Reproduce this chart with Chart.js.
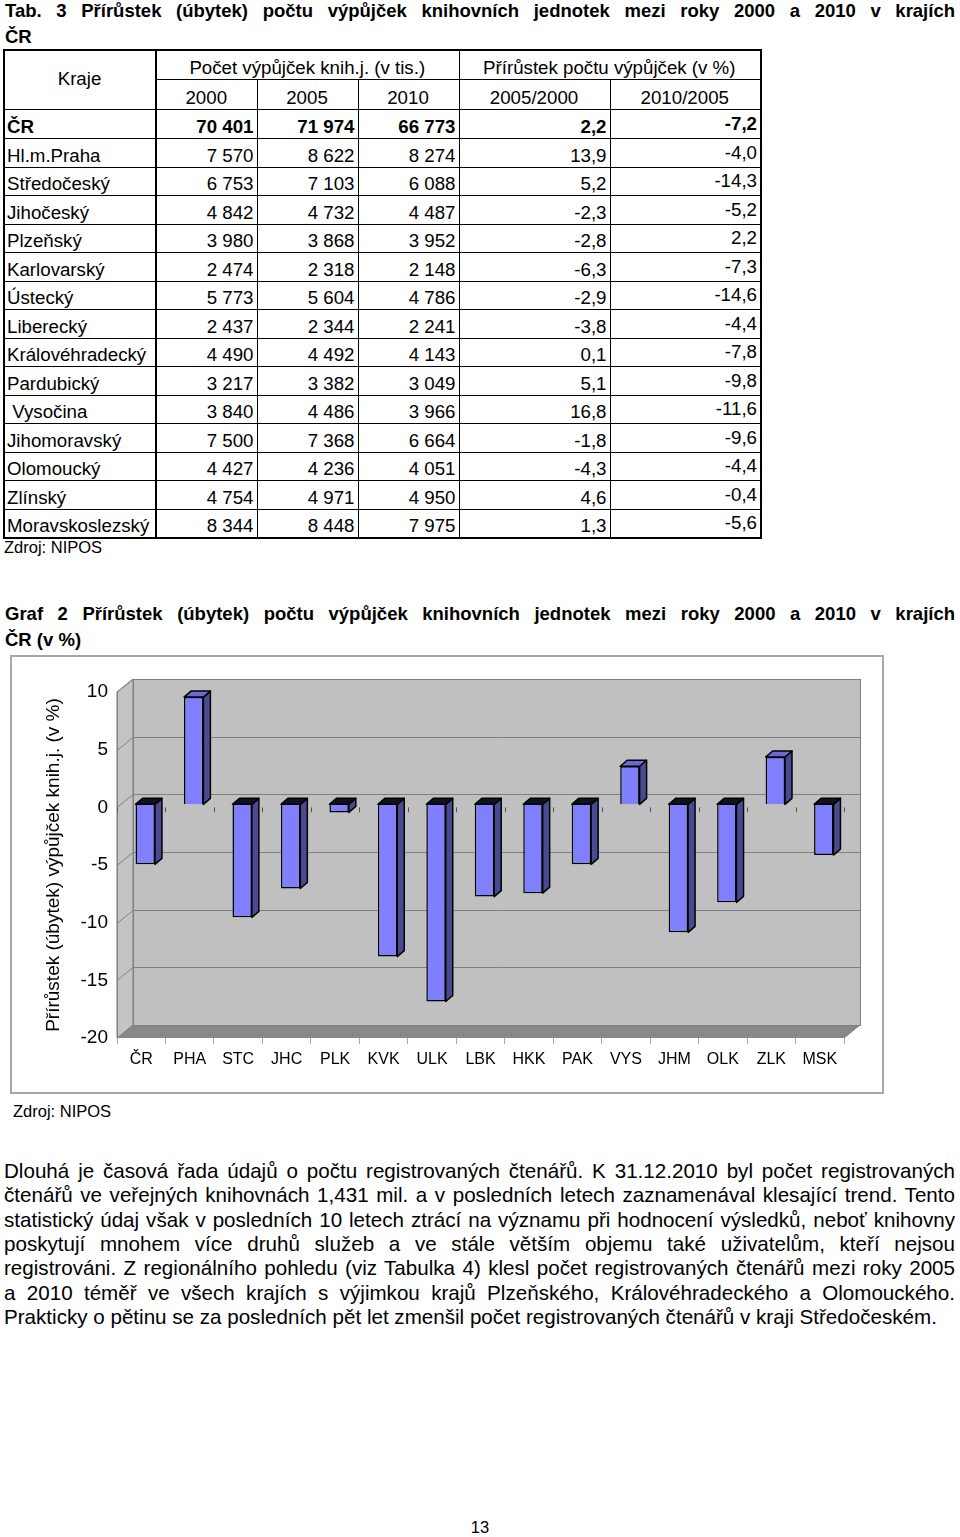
<!DOCTYPE html>
<html lang="cs">
<head>
<meta charset="utf-8">
<title>Graf 2 – přírůstek výpůjček</title>
<script src="https://cdn.jsdelivr.net/npm/chart.js@4.4.1/dist/chart.umd.min.js"></script>
<style>
  body { margin: 0; background: #fff; color: #000; font-family: "Liberation Sans", Arial, sans-serif; }
  .abs { position: absolute; line-height: 1; white-space: nowrap; }
  .nadpis { font-weight: bold; font-size: 18.5px; left: 5px; width: 950px; }
  .jl { text-align: justify; text-align-last: justify; white-space: normal; }
  .zdroj { font-size: 16.5px; }
  #tab { position: absolute; left: 3px; top: 49px; border-collapse: collapse; table-layout: fixed; font-size: 18.7px; border: 2px solid #000; }
  #tab td { border: 1px solid #000; padding: 0 3px 1px 2px; line-height: 1; vertical-align: bottom; white-space: pre; overflow: hidden; }
  #tab tr { height: 28.5px; }
  #tab tr.h { height: 29.5px; }
  #tab td.c { text-align: center; }
  #tab td.r { text-align: right; }
  #tab td.kraj { border-right: 2px solid #000; }
  #tab td.up span { position: relative; top: -3px; }
  #tab tr.b td { font-weight: bold; }
  #box { position: absolute; left: 10px; top: 655px; border: 2px solid #a8a8a8; width: 870px; height: 435px; }
  #odst { position: absolute; left: 4px; top: 1159px; width: 951px; font-size: 20.6px; line-height: 24.35px; }
  #odst div { text-align: justify; text-align-last: justify; }
  #odst div.last { text-align-last: left; }
</style>
</head>
<body>

<div class="abs nadpis jl" style="top:1.5px">Tab. 3 Přírůstek (úbytek) počtu výpůjček knihovních jednotek mezi roky 2000 a 2010 v krajích</div>
<div class="abs nadpis" style="top:27.5px">ČR</div>

<table id="tab">
  <colgroup>
    <col style="width:152px"><col style="width:101px"><col style="width:101px"><col style="width:101px"><col style="width:151px"><col style="width:151px">
  </colgroup>
  <tbody id="tabBody"></tbody>
</table>

<div class="abs zdroj" style="left:4px; top:539px">Zdroj: NIPOS</div>

<div class="abs nadpis jl" style="top:604.5px">Graf 2 Přírůstek (úbytek) počtu výpůjček knihovních jednotek mezi roky 2000 a 2010 v krajích</div>
<div class="abs nadpis" style="top:630.5px">ČR (v %)</div>

<div id="box"><canvas id="graf" width="870" height="435"></canvas></div>

<div class="abs zdroj" style="left:13px; top:1103px">Zdroj: NIPOS</div>

<div id="odst">
  <div>Dlouhá je časová řada údajů o počtu registrovaných čtenářů. K 31.12.2010 byl počet registrovaných</div>
  <div>čtenářů ve veřejných knihovnách 1,431 mil. a v posledních letech zaznamenával klesající trend. Tento</div>
  <div>statistický údaj však v posledních 10 letech ztrácí na významu při hodnocení výsledků, neboť knihovny</div>
  <div>poskytují mnohem více druhů služeb a ve stále větším objemu také uživatelům, kteří nejsou</div>
  <div>registrováni. Z regionálního pohledu (viz Tabulka 4) klesl počet registrovaných čtenářů mezi roky 2005</div>
  <div>a 2010 téměř ve všech krajích s výjimkou krajů Plzeňského, Královéhradeckého a Olomouckého.</div>
  <div class="last">Prakticky o pětinu se za posledních pět let zmenšil počet registrovaných čtenářů v kraji Středočeském.</div>
</div>

<div class="abs zdroj" style="left:0; width:960px; text-align:center; top:1519px">13</div>

<script>
// data grafu – zkratky krajů a přírůstek 2000–2010 v %
const kraje = ['ČR', 'PHA', 'STC', 'JHC', 'PLK', 'KVK', 'ULK', 'LBK', 'HKK', 'PAK', 'VYS', 'JHM', 'OLK', 'ZLK', 'MSK'];
const prirustek = [-5.2, 9.3, -9.8, -7.3, -0.7, -13.2, -17.1, -8.0, -7.7, -5.2, 3.3, -11.1, -8.5, 4.1, -4.4];
const osaY = [-20, -15, -10, -5, 0, 5, 10];

// data tabulky
const nazvy = ['ČR', 'Hl.m.Praha', 'Středočeský', 'Jihočeský', 'Plzeňský', 'Karlovarský', 'Ústecký', 'Liberecký',
  'Královéhradecký', 'Pardubický', ' Vysočina', 'Jihomoravský', 'Olomoucký', 'Zlínský', 'Moravskoslezský'];
const v2000 = ['70 401', '7 570', '6 753', '4 842', '3 980', '2 474', '5 773', '2 437', '4 490', '3 217', '3 840', '7 500', '4 427', '4 754', '8 344'];
const v2005 = ['71 974', '8 622', '7 103', '4 732', '3 868', '2 318', '5 604', '2 344', '4 492', '3 382', '4 486', '7 368', '4 236', '4 971', '8 448'];
const v2010 = ['66 773', '8 274', '6 088', '4 487', '3 952', '2 148', '4 786', '2 241', '4 143', '3 049', '3 966', '6 664', '4 051', '4 950', '7 975'];
const p0500 = ['2,2', '13,9', '5,2', '-2,3', '-2,8', '-6,3', '-2,9', '-3,8', '0,1', '5,1', '16,8', '-1,8', '-4,3', '4,6', '1,3'];
const p1005 = ['-7,2', '-4,0', '-14,3', '-5,2', '2,2', '-7,3', '-14,6', '-4,4', '-7,8', '-9,8', '-11,6', '-9,6', '-4,4', '-0,4', '-5,6'];

// tabulka
let html = '<tr class="h"><td class="c kraj" rowspan="2" style="vertical-align:middle">Kraje</td>' +
  '<td class="c" colspan="3">Počet výpůjček knih.j. (v tis.)</td>' +
  '<td class="c" colspan="2">Přírůstek počtu výpůjček (v %)</td></tr>' +
  '<tr class="h"><td class="c">2000</td><td class="c">2005</td><td class="c">2010</td><td class="c">2005/2000</td><td class="c">2010/2005</td></tr>';
nazvy.forEach((n, i) => {
  html += '<tr' + (i === 0 ? ' class="b h"' : '') + '>' +
    '<td class="kraj">' + n + '</td>' +
    '<td class="r">' + v2000[i] + '</td>' +
    '<td class="r">' + v2005[i] + '</td>' +
    '<td class="r">' + v2010[i] + '</td>' +
    '<td class="r">' + p0500[i] + '</td>' +
    '<td class="r up"><span>' + p1005[i] + '</span></td></tr>';
});
document.getElementById('tabBody').innerHTML = html;

// 3D vzhled – hloubka stěny, sloupců a posun sloupců do hloubky
const DX = 16, DY = -13;
const BAR_DX = 7, BAR_DY = -6;
const SHIFT_X = 4, SHIFT_Y = -3;

const steny3d = {
  id: 'steny3d',
  beforeDatasetsDraw(chart) {
    const { ctx, chartArea: { left, right, top, bottom }, scales: { x, y } } = chart;
    ctx.save();
    ctx.lineWidth = 1;
    ctx.strokeStyle = '#808080';

    // zadní stěna
    ctx.fillStyle = '#c0c0c0';
    ctx.fillRect(left + DX, top + DY, right - left, bottom - top);
    // boční stěna
    ctx.fillStyle = '#c4c4c4';
    ctx.beginPath();
    ctx.moveTo(left, top); ctx.lineTo(left + DX, top + DY);
    ctx.lineTo(left + DX, bottom + DY); ctx.lineTo(left, bottom);
    ctx.closePath(); ctx.fill(); ctx.stroke();
    // podlaha
    ctx.fillStyle = '#888888';
    ctx.beginPath();
    ctx.moveTo(left, bottom); ctx.lineTo(left + DX, bottom + DY);
    ctx.lineTo(right + DX, bottom + DY); ctx.lineTo(right, bottom);
    ctx.closePath(); ctx.fill();
    ctx.strokeRect(left + DX + 0.5, top + DY + 0.5, right - left, bottom - top);

    // mřížka na zadní stěně + šikmé čárky na boku
    osaY.forEach(v => {
      const py = Math.round(y.getPixelForValue(v)) + 0.5;
      ctx.beginPath();
      ctx.moveTo(left + DX, py + DY); ctx.lineTo(right + DX, py + DY);
      ctx.moveTo(left, py); ctx.lineTo(left + DX, py + DY);
      ctx.stroke();
    });
    ctx.beginPath();
    ctx.moveTo(left + 0.5, top); ctx.lineTo(left + 0.5, bottom);
    ctx.moveTo(right + DX, bottom + DY); ctx.lineTo(right, bottom);
    ctx.stroke();

    // značky kategorií na nule
    const y0 = y.getPixelForValue(0);
    ctx.strokeStyle = '#555';
    ctx.beginPath();
    for (let i = 0; i <= kraje.length; i++) {
      const bx = Math.round(x.getPixelForValue(i - 0.5)) + 0.5;
      ctx.moveTo(bx, y0); ctx.lineTo(bx, y0 + 5);
    }
    ctx.stroke();
    ctx.restore();

    // sloupce stojí kousek dál od přední hrany
    ctx.save();
    ctx.translate(SHIFT_X, SHIFT_Y);
  },
  afterDatasetsDraw(chart) {
    const ctx = chart.ctx;
    ctx.lineWidth = 1.5;
    ctx.strokeStyle = '#000';
    ctx.lineJoin = 'round';
    chart.getDatasetMeta(0).data.forEach((bar, i) => {
      const { x: cx, y: vy, base, width } = bar.getProps(['x', 'y', 'base', 'width'], true);
      const l = cx - width / 2, r = cx + width / 2;
      const t = Math.min(vy, base), b = Math.max(vy, base);
      // bok
      ctx.fillStyle = '#4a4a92';
      ctx.beginPath();
      ctx.moveTo(r, t); ctx.lineTo(r + BAR_DX, t + BAR_DY);
      ctx.lineTo(r + BAR_DX, b + BAR_DY); ctx.lineTo(r, b);
      ctx.closePath(); ctx.fill(); ctx.stroke();
      // vršek
      ctx.fillStyle = prirustek[i] >= 0 ? '#6a6ad6' : '#111122';
      ctx.beginPath();
      ctx.moveTo(l, t); ctx.lineTo(l + BAR_DX, t + BAR_DY);
      ctx.lineTo(r + BAR_DX, t + BAR_DY); ctx.lineTo(r, t);
      ctx.closePath(); ctx.fill(); ctx.stroke();
    });
    ctx.restore();
  }
};

Chart.defaults.font.family = '"Liberation Sans", Arial, sans-serif';

new Chart(document.getElementById('graf'), {
  type: 'bar',
  data: {
    labels: kraje,
    datasets: [{
      data: prirustek,
      backgroundColor: '#8080ff',
      borderColor: '#000',
      borderWidth: 1.5,
      barPercentage: 0.4,
      categoryPercentage: 1,
      clip: false
    }]
  },
  options: {
    responsive: false,
    animation: false,
    layout: { padding: { left: 30, top: 35, right: 38, bottom: 0 } },
    plugins: { legend: { display: false }, tooltip: { enabled: false } },
    scales: {
      x: {
        offset: true,
        grid: { display: true, drawOnChartArea: false, drawTicks: true, tickLength: 6, color: '#a8a8a8', offset: true },
        border: { display: false },
        ticks: { color: '#000', font: { size: 16 }, padding: 6, maxRotation: 0, autoSkip: false },
        afterFit: s => { s.height = 54; }
      },
      y: {
        min: osaY[0],
        max: osaY[osaY.length - 1],
        afterBuildTicks: s => { s.ticks = osaY.map(v => ({ value: v })); },
        grid: { display: false, drawTicks: false },
        border: { display: false },
        ticks: { color: '#000', font: { size: 19 }, padding: 9 },
        title: {
          display: true,
          text: 'Přírůstek (úbytek) výpůjček knih.j. (v %)',
          color: '#000',
          font: { size: 19 },
          padding: { top: 0, bottom: 0 }
        },
        afterFit: s => { s.width = 75; }
      }
    }
  },
  plugins: [steny3d]
});
</script>
</body>
</html>
